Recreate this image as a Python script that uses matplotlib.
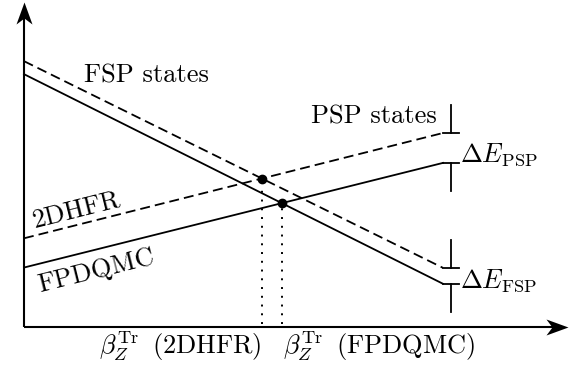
import numpy as np
import matplotlib.pyplot as plt
from matplotlib.markers import MarkerStyle
from matplotlib.path import Path
from matplotlib.transforms import Affine2D

# energy of the two branches against the coupling, both methods
beta = [0.0, 1.0]
e_fsp_hfr = [0.818, 0.182]
e_fsp_qmc = [0.778, 0.133]
e_psp_hfr = [0.273, 0.597]
e_psp_qmc = [0.183, 0.505]

gap_tick = 0.086

plt.rcParams['font.family'] = 'serif'
plt.rcParams['font.serif'] = ['cmr10']
plt.rcParams['mathtext.fontset'] = 'cm'
plt.rcParams['axes.unicode_minus'] = False
fs = 19

fig = plt.figure(figsize=(5.7, 3.73), dpi=100)
ax = fig.add_axes([0, 0, 1, 1])
ax.set_xlim(-0.0573, 1.3031)
ax.set_ylim(-0.1415, 1.0062)
ax.axis('off')


def crossing(xs, y1, y2):
    b1 = (y1[1] - y1[0]) / (xs[1] - xs[0])
    b2 = (y2[1] - y2[0]) / (xs[1] - xs[0])
    x = xs[0] + (y2[0] - y1[0]) / (b1 - b2)
    return x, y1[0] + b1 * (x - xs[0])


def screen_angle(xs, ys):
    p = ax.transData.transform(np.column_stack([xs, ys]))
    return np.degrees(np.arctan2(p[1, 1] - p[0, 1], p[1, 0] - p[0, 0]))


# axes with stealth arrow heads
stealth = Path([(0, 0), (-22, 8), (-16, 0), (-22, -8), (0, 0)],
               [Path.MOVETO, Path.LINETO, Path.LINETO, Path.LINETO, Path.CLOSEPOLY])
x_tip, y_tip = 1.298, 1.0
ax.plot([0, x_tip - 0.03], [0, 0], 'k', lw=1.5, solid_capstyle='butt')
ax.plot([0, 0], [0, y_tip - 0.035], 'k', lw=1.5, solid_capstyle='butt')
ax.plot([x_tip], [0], 'k', marker=MarkerStyle(stealth), ms=31.7, mew=0)
ax.plot([0], [y_tip], 'k', marker=MarkerStyle(stealth, transform=Affine2D().rotate_deg(90)),
        ms=31.7, mew=0)

dash = (5.5, 2.8)
ax.plot(beta, e_fsp_hfr, 'k', lw=1.3, dashes=dash)
ax.plot(beta, e_psp_hfr, 'k', lw=1.3, dashes=dash)
ax.plot(beta, e_fsp_qmc, 'k', lw=1.3)
ax.plot(beta, e_psp_qmc, 'k', lw=1.3)

# transition points
x_hfr, y_hfr = crossing(beta, e_fsp_hfr, e_psp_hfr)
x_qmc, y_qmc = crossing(beta, e_fsp_qmc, e_psp_qmc)
for xc, yc in [(x_hfr, y_hfr), (x_qmc, y_qmc)]:
    ax.plot([xc, xc], [0.008, yc], 'k', lw=1.4, ls=(0, (1, 3.5)))
    ax.plot([xc], [yc], 'ko', ms=6)

# energy gaps at the right end
xg = 1.019
for upper, lower in [(e_psp_hfr[1], e_psp_qmc[1]), (e_fsp_hfr[1], e_fsp_qmc[1])]:
    ax.plot([xg, xg], [upper, upper + gap_tick], 'k', lw=1.3)
    ax.plot([xg, xg], [lower - gap_tick, lower], 'k', lw=1.3)
    ax.plot([1.0, 1.038], [upper, upper], 'k', lw=1.3)
    ax.plot([1.0, 1.038], [lower, lower], 'k', lw=1.3)

ax.text(0.143, 0.751, 'FSP states', fontsize=fs)
ax.text(0.986, 0.625, 'PSP states', fontsize=fs, ha='right')
ax.text(1.041, 0.508, r'$\Delta E_{\rm PSP}$', fontsize=fs)
ax.text(1.041, 0.123, r'$\Delta E_{\rm FSP}$', fontsize=fs)

a_hfr = screen_angle(beta, e_psp_hfr)
a_qmc = screen_angle(beta, e_psp_qmc)
x0 = 0.026
y0 = np.interp(x0, beta, e_psp_hfr)
ax.annotate('2DHFR', (x0, y0), xytext=(0, 5.8), textcoords='offset points',
            fontsize=fs, rotation=a_hfr, rotation_mode='anchor', ha='left', va='baseline')
x1 = 0.038
y1 = np.interp(x1, beta, e_psp_qmc)
ax.annotate('FPDQMC', (x1, y1), xytext=(0, -20.9), textcoords='offset points',
            fontsize=fs, rotation=a_qmc, rotation_mode='anchor', ha='left', va='baseline')

ax.text(x_hfr, -0.083, r'$\beta_Z^{\rm Tr}\,$ (2DHFR)', fontsize=fs, ha='right')
ax.text(x_qmc + 0.004, -0.083, r'$\beta_Z^{\rm Tr}\,$ (FPDQMC)', fontsize=fs, ha='left')

fig.savefig('out.png', dpi=100)
